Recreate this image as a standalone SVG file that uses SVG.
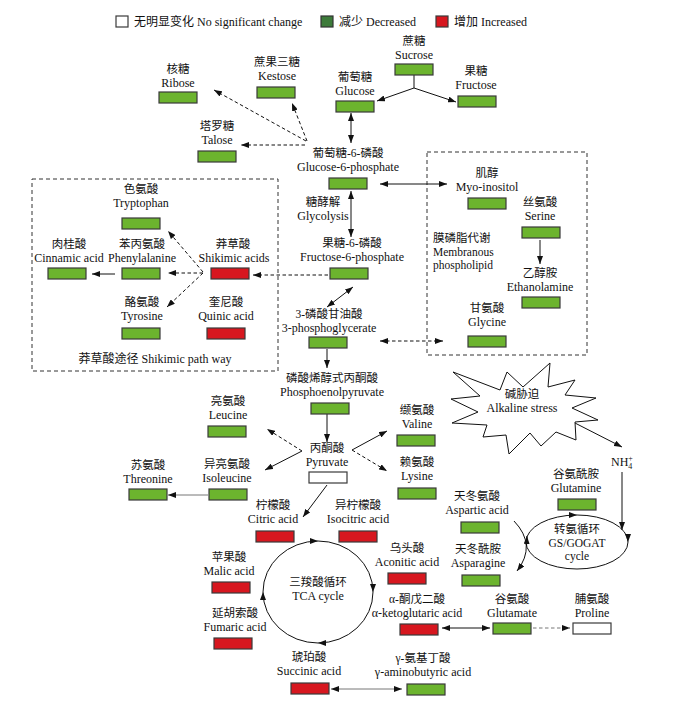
<svg xmlns="http://www.w3.org/2000/svg" width="690" height="702" viewBox="0 0 690 702">
<defs>
<style>
text{font-family:"Liberation Serif","Noto Sans CJK SC",serif;font-size:12px;fill:#111;text-anchor:middle}
.c{font-size:11.5px}
.s{font-size:11.5px}
.l{text-anchor:start}
.g{fill:#6cb42e;stroke:#3a3a3a;stroke-width:1.2}
.r{fill:#d7171f;stroke:#3a3a3a;stroke-width:1.2}
.w{fill:#fff;stroke:#3a3a3a;stroke-width:1.2}
.ln{fill:none;stroke:#111;stroke-width:1}
.d{stroke-dasharray:3.5,2.5}
.gr{stroke:#777}
.frame{fill:none;stroke:#333;stroke-width:1;stroke-dasharray:4,3}
</style>
<marker id="a" viewBox="0 0 8 6" refX="8" refY="3" markerWidth="8" markerHeight="6" markerUnits="userSpaceOnUse" orient="auto-start-reverse"><path d="M0,0 L8,3 L0,6 Z" fill="#111"/></marker>
</defs>
<rect width="690" height="702" fill="#fff"/>

<g id="legend">
<rect x="116" y="16" width="12" height="11" class="w"/>
<text x="134" y="26" class="l">无明显变化 No significant change</text>
<rect x="321" y="16" width="12" height="11" fill="#3d7b3a" stroke="#333" stroke-width="1.2"/>
<text x="339" y="26" class="l">减少 Decreased</text>
<rect x="436" y="16" width="12" height="11" class="r"/>
<text x="454" y="26" class="l">增加 Increased</text>
</g>

<g id="frames">
<rect x="32" y="179" width="246" height="192" class="frame"/>
<rect x="427" y="152" width="160" height="203" class="frame"/>
<text x="155" y="363">莽草酸途径 Shikimic path way</text>
<text x="433" y="242" class="l c">膜磷脂代谢</text>
<text x="433" y="256" class="l s">Membranous</text>
<text x="433" y="269" class="l s">phospholipid</text>
<text x="323" y="206" class="c">糖酵解</text>
<text x="323" y="220">Glycolysis</text>
</g>

<g id="connectors">
<path class="ln" d="M414,75 L414,88"/>
<path class="ln" d="M414,88 L377,101" marker-end="url(#a)"/>
<path class="ln" d="M414,88 L456,102" marker-end="url(#a)"/>
<path class="ln" d="M351,113 L351,143" marker-start="url(#a)" marker-end="url(#a)"/>
<path class="ln" d="M351,191 L351,237" marker-start="url(#a)" marker-end="url(#a)"/>
<path class="ln" d="M380,184 L447,184" marker-start="url(#a)" marker-end="url(#a)"/>
<path class="ln" d="M353,287 L327,307" marker-start="url(#a)" marker-end="url(#a)"/>
<path class="ln d" d="M380,341 L443,341" marker-start="url(#a)" marker-end="url(#a)"/>
<path class="ln" d="M540,240 L540,264" marker-end="url(#a)"/>
<path class="ln d" d="M306,141 L214,90" marker-end="url(#a)"/>
<path class="ln d" d="M307,141 L292,103" marker-end="url(#a)"/>
<path class="ln d" d="M305,145 L241,145" marker-end="url(#a)"/>
<path class="ln d" d="M328,275 L253,275" marker-end="url(#a)"/>
<path class="ln d" d="M203,272 L168,231" marker-end="url(#a)"/>
<path class="ln d" d="M203,273 L168,273" marker-end="url(#a)"/>
<path class="ln d" d="M203,273 L167,307" marker-end="url(#a)"/>
<path class="ln" d="M115,274 L92,274" marker-end="url(#a)"/>
<path class="ln" d="M327,349 L327,368" marker-end="url(#a)"/>
<path class="ln" d="M327,413 L327,442" marker-end="url(#a)"/>
<path class="ln d" d="M302,451 L267,429" marker-end="url(#a)"/>
<path class="ln" d="M302,451 L265,470" marker-end="url(#a)"/>
<path class="ln" d="M352,450 L387,431" marker-end="url(#a)"/>
<path class="ln d" d="M352,450 L387,471" marker-end="url(#a)"/>
<path class="ln gr" d="M208,495 L168,495" marker-end="url(#a)"/>
<path class="ln" d="M327,485 L303,517" marker-end="url(#a)"/>
<path class="ln" d="M263,592 A55,51 0 0 1 318,541" marker-end="url(#a)"/>
<path class="ln" d="M318,541 A55,51 0 0 1 373,592" marker-end="url(#a)"/>
<path class="ln" d="M373,592 A55,51 0 0 1 318,643" marker-end="url(#a)"/>
<path class="ln" d="M318,643 A55,51 0 0 1 263,592" marker-end="url(#a)"/>
<path class="ln" d="M442,628 L490,628" marker-start="url(#a)" marker-end="url(#a)"/>
<path class="ln d gr" d="M533,628 L570,628" marker-end="url(#a)"/>
<path class="ln gr" d="M331,689 L402,689" marker-start="url(#a)" marker-end="url(#a)"/>
<path class="ln" d="M573,422 L622,447" marker-end="url(#a)"/>
<path class="ln" d="M622,472 L622,530" marker-end="url(#a)"/>
<path class="ln" d="M526,542 A51,27 0 0 1 577,515" marker-end="url(#a)"/>
<path class="ln" d="M577,515 A51,27 0 0 1 628,542" marker-end="url(#a)"/>
<path class="ln" d="M628,542 A51,27 0 0 1 577,569"/>
<path class="ln" d="M577,569 A51,27 0 0 1 526,542"/>
<path class="ln" d="M514,521 Q537,545 517,571" marker-end="url(#a)"/>
<path class="ln" d="M526.5,546 L527,536" marker-end="url(#a)"/>
</g>

<g id="stress">
<polygon points="453,372 500,390 507,372 523,387 550,363 548,387 575,380 565,395 596,398 572,408 598,420 575,422 576,440 556,432 541,446 530,433 509,454 506,435 483,437 487,425 452,423 478,412 451,399 480,396" fill="#fff" stroke="#111" stroke-width="1"/>
<text x="522" y="398" class="c">碱胁迫</text>
<text x="522" y="412">Alkaline stress</text>
</g>
<g id="nh4"><text x="611" y="466" class="l">NH<tspan font-size="8" dy="3">4</tspan><tspan font-size="8" dx="-4" dy="-8">+</tspan></text></g>
<g id="tca"><text x="318" y="586" class="c">三羧酸循环</text><text x="318" y="600">TCA cycle</text></g>
<g id="gsgogat"><text x="577" y="533" class="c">转氨循环</text><text x="577" y="547" class="s">GS/GOGAT</text><text x="577" y="560" class="s">cycle</text></g>

<g id="sucrose"><text x="414" y="45" class="c">蔗糖</text><text x="414" y="59">Sucrose</text><rect x="395" y="64" width="38" height="11" class="g"/></g>
<g id="fructose"><text x="476" y="75" class="c">果糖</text><text x="476" y="89">Fructose</text><rect x="458" y="96" width="38" height="11" class="g"/></g>
<g id="glucose"><text x="355" y="81" class="c">葡萄糖</text><text x="355" y="95">Glucose</text><rect x="336" y="101" width="38" height="11" class="g"/></g>
<g id="kestose"><text x="277" y="66" class="c">蔗果三糖</text><text x="277" y="80">Kestose</text><rect x="257" y="87" width="38" height="11" class="g"/></g>
<g id="ribose"><text x="178" y="73" class="c">核糖</text><text x="178" y="87">Ribose</text><rect x="159" y="92" width="38" height="11" class="g"/></g>
<g id="talose"><text x="217" y="130" class="c">塔罗糖</text><text x="217" y="144">Talose</text><rect x="198" y="151" width="38" height="11" class="g"/></g>
<g id="g6p"><text x="348" y="157" class="c">葡萄糖-6-磷酸</text><text x="348" y="171">Glucose-6-phosphate</text><rect x="329" y="178" width="38" height="11" class="g"/></g>
<g id="myo"><text x="487" y="177" class="c">肌醇</text><text x="487" y="191">Myo-inositol</text><rect x="468" y="198" width="38" height="11" class="g"/></g>
<g id="serine"><text x="540" y="206" class="c">丝氨酸</text><text x="540" y="220">Serine</text><rect x="522" y="227" width="38" height="11" class="g"/></g>
<g id="f6p"><text x="352" y="247" class="c">果糖-6-磷酸</text><text x="352" y="261">Fructose-6-phosphate</text><rect x="330" y="268" width="38" height="11" class="g"/></g>
<g id="ethanolamine"><text x="540" y="277" class="c">乙醇胺</text><text x="540" y="291">Ethanolamine</text><rect x="522" y="297" width="38" height="11" class="g"/></g>
<g id="pga"><text x="329" y="318" class="c">3-磷酸甘油酸</text><text x="329" y="332">3-phosphoglycerate</text><rect x="309" y="337" width="38" height="11" class="g"/></g>
<g id="glycine"><text x="487" y="312" class="c">甘氨酸</text><text x="487" y="326">Glycine</text><rect x="468" y="336" width="38" height="11" class="g"/></g>
<g id="tryptophan"><text x="141" y="193" class="c">色氨酸</text><text x="141" y="207">Tryptophan</text><rect x="122" y="218" width="38" height="11" class="g"/></g>
<g id="cinnamic"><text x="69" y="248" class="c">肉桂酸</text><text x="69" y="262">Cinnamic acid</text><rect x="48" y="268" width="38" height="11" class="g"/></g>
<g id="phenylalanine"><text x="142" y="248" class="c">苯丙氨酸</text><text x="142" y="262">Phenylalanine</text><rect x="122" y="268" width="38" height="11" class="g"/></g>
<g id="shikimic"><text x="233" y="248" class="c">莽草酸</text><text x="234" y="262">Shikimic acids</text><rect x="211" y="268" width="38" height="11" class="r"/></g>
<g id="tyrosine"><text x="142" y="306" class="c">酪氨酸</text><text x="142" y="320">Tyrosine</text><rect x="122" y="328" width="38" height="11" class="g"/></g>
<g id="quinic"><text x="226" y="306" class="c">奎尼酸</text><text x="226" y="320">Quinic acid</text><rect x="207" y="328" width="38" height="11" class="r"/></g>
<g id="pep"><text x="332" y="382" class="c">磷酸烯醇式丙酮酸</text><text x="332" y="396">Phosphoenolpyruvate</text><rect x="311" y="403" width="38" height="11" class="g"/></g>
<g id="leucine"><text x="228" y="405" class="c">亮氨酸</text><text x="228" y="419">Leucine</text><rect x="208" y="426" width="38" height="11" class="g"/></g>
<g id="pyruvate"><text x="327" y="452" class="c">丙酮酸</text><text x="327" y="466">Pyruvate</text><rect x="309" y="472" width="38" height="11" class="w"/></g>
<g id="valine"><text x="417" y="414" class="c">缬氨酸</text><text x="417" y="428">Valine</text><rect x="397" y="435" width="38" height="11" class="g"/></g>
<g id="lysine"><text x="417" y="466" class="c">赖氨酸</text><text x="417" y="480">Lysine</text><rect x="398" y="488" width="38" height="11" class="g"/></g>
<g id="isoleucine"><text x="227" y="468" class="c">异亮氨酸</text><text x="227" y="482">Isoleucine</text><rect x="209" y="489" width="38" height="11" class="g"/></g>
<g id="threonine"><text x="148" y="469" class="c">苏氨酸</text><text x="148" y="483">Threonine</text><rect x="129" y="489" width="38" height="11" class="g"/></g>
<g id="citric"><text x="273" y="509" class="c">柠檬酸</text><text x="273" y="523">Citric acid</text><rect x="256" y="531" width="38" height="11" class="r"/></g>
<g id="isocitric"><text x="358" y="509" class="c">异柠檬酸</text><text x="358" y="523">Isocitric acid</text><rect x="339" y="531" width="38" height="11" class="r"/></g>
<g id="aspartic"><text x="477" y="500" class="c">天冬氨酸</text><text x="477" y="514">Aspartic acid</text><rect x="461" y="522" width="38" height="11" class="g"/></g>
<g id="glutamine"><text x="576" y="478" class="c">谷氨酰胺</text><text x="576" y="492">Glutamine</text><rect x="558" y="499" width="38" height="11" class="g"/></g>
<g id="asparagine"><text x="478" y="553" class="c">天冬酰胺</text><text x="478" y="567">Asparagine</text><rect x="462" y="575" width="38" height="11" class="g"/></g>
<g id="aconitic"><text x="407" y="552" class="c">乌头酸</text><text x="407" y="566">Aconitic acid</text><rect x="388" y="573" width="38" height="11" class="r"/></g>
<g id="malic"><text x="229" y="561" class="c">苹果酸</text><text x="229" y="575">Malic acid</text><rect x="212" y="582" width="38" height="11" class="r"/></g>
<g id="akg"><text x="417" y="603" class="c">α-酮戊二酸</text><text x="417" y="617">α-ketoglutaric acid</text><rect x="400" y="624" width="38" height="11" class="r"/></g>
<g id="glutamate"><text x="512" y="603" class="c">谷氨酸</text><text x="512" y="617">Glutamate</text><rect x="493" y="623" width="38" height="11" class="g"/></g>
<g id="proline"><text x="592" y="603" class="c">脯氨酸</text><text x="592" y="617">Proline</text><rect x="573" y="623" width="38" height="11" class="w"/></g>
<g id="fumaric"><text x="235" y="617" class="c">延胡索酸</text><text x="235" y="631">Fumaric acid</text><rect x="214" y="638" width="38" height="11" class="r"/></g>
<g id="succinic"><text x="309" y="661" class="c">琥珀酸</text><text x="309" y="675">Succinic acid</text><rect x="291" y="683" width="38" height="11" class="r"/></g>
<g id="gaba"><text x="423" y="662" class="c">γ-氨基丁酸</text><text x="423" y="676">γ-aminobutyric acid</text><rect x="407" y="684" width="38" height="11" class="g"/></g>
</svg>
